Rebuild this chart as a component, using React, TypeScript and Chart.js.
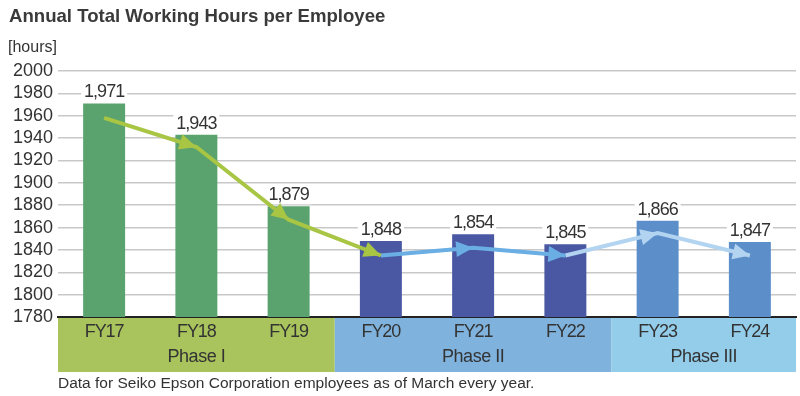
import React, { useEffect, useRef } from "react";
import { Chart, registerables } from "chart.js";

Chart.register(...registerables);

const categories = ["FY17", "FY18", "FY19", "FY20", "FY21", "FY22", "FY23", "FY24"];
const hours = [1971, 1943, 1879, 1848, 1854, 1845, 1866, 1847];
const hourLabels = ["1,971", "1,943", "1,879", "1,848", "1,854", "1,845", "1,866", "1,847"];
const trendPhase1 = [1958, 1932, 1867, 1835, null, null, null, null];
const trendPhase2 = [null, null, null, 1835, 1842, 1835, null, null];
const trendPhase3 = [null, null, null, null, null, 1835, 1855, 1835];
const phases = [
  { name: "Phase I", from: 0, to: 2 },
  { name: "Phase II", from: 3, to: 5 },
  { name: "Phase III", from: 6, to: 7 },
];
const yTicks = { min: 1780, max: 2000, step: 20 };

const barColors = ["#5aa36e", "#5aa36e", "#5aa36e", "#4a58a3", "#4a58a3", "#4a58a3", "#5c8fca", "#5c8fca"];
const bandColors = ["#a9c45d", "#7fb3de", "#93cdea"];
const arrowColors = ["#a8c544", "#6aaee3", "#b3d4f1"];
const FONT = "'Liberation Sans', Arial, Helvetica, sans-serif";
const TEXT = "#333333";

const decorPlugin = {
  id: "decor",
  beforeDraw(chart: any) {
    const { ctx, chartArea } = chart;
    const xs = chart.scales.x;
    const half = (xs.getPixelForValue(1) - xs.getPixelForValue(0)) / 2;
    ctx.save();
    const bandTop = chartArea.bottom;
    const bandBottom = 372;
    phases.forEach((p, i) => {
      const x0 = xs.getPixelForValue(p.from) - half;
      const x1 = xs.getPixelForValue(p.to) + half;
      ctx.fillStyle = bandColors[i];
      ctx.fillRect(x0, bandTop, x1 - x0, bandBottom - bandTop);
      ctx.fillStyle = TEXT;
      ctx.font = `18px ${FONT}`;
      ctx.textAlign = "center";
      ctx.textBaseline = "middle";
      (ctx as any).letterSpacing = "-0.5px";
      ctx.fillText(p.name, (x0 + x1) / 2, 357);
    });
    ctx.font = `18px ${FONT}`;
    (ctx as any).letterSpacing = "-1.1px";
    categories.forEach((c, i) => {
      ctx.fillText(c, xs.getPixelForValue(i), 332);
    });
    (ctx as any).letterSpacing = "0px";
    ctx.textAlign = "left";
    ctx.fillStyle = "#3a3a3a";
    ctx.font = `bold 18.6px ${FONT}`;
    ctx.fillText("Annual Total Working Hours per Employee", 9, 17);
    ctx.fillStyle = TEXT;
    ctx.font = `16px ${FONT}`;
    ctx.fillText("[hours]", 8, 48);
    ctx.font = `15.5px ${FONT}`;
    ctx.fillText("Data for Seiko Epson Corporation employees as of March every year.", 58, 384);
    ctx.restore();
  },
  afterDatasetDraw(chart: any, args: any) {
    const { ctx } = chart;
    const meta = args.meta;
    if (meta.type === "bar") {
      ctx.save();
      ctx.font = `18px ${FONT}`;
      (ctx as any).letterSpacing = "-1px";
      ctx.textAlign = "center";
      ctx.textBaseline = "middle";
      meta.data.forEach((el: any, i: number) => {
        const txt = hourLabels[i];
        const w = ctx.measureText(txt).width + 6;
        const cy = el.y - 11;
        ctx.fillStyle = "#ffffff";
        ctx.fillRect(el.x - w / 2, cy - 10, w, 19);
        ctx.fillStyle = TEXT;
        ctx.fillText(txt, el.x, cy);
      });
      ctx.restore();
    } else if (meta.type === "line") {
      const color = chart.data.datasets[args.index].borderColor;
      const data = chart.data.datasets[args.index].data;
      ctx.save();
      ctx.fillStyle = color;
      for (let i = 1; i < meta.data.length; i++) {
        if (data[i] == null || data[i - 1] == null) continue;
        const p0 = meta.data[i - 1];
        const p1 = meta.data[i];
        const ang = Math.atan2(p1.y - p0.y, p1.x - p0.x);
        const len = 17;
        const hw = 8;
        ctx.beginPath();
        ctx.moveTo(p1.x, p1.y);
        ctx.lineTo(p1.x - len * Math.cos(ang) - hw * Math.sin(ang), p1.y - len * Math.sin(ang) + hw * Math.cos(ang));
        ctx.lineTo(p1.x - len * Math.cos(ang) + hw * Math.sin(ang), p1.y - len * Math.sin(ang) - hw * Math.cos(ang));
        ctx.closePath();
        ctx.fill();
      }
      ctx.restore();
    }
  },
};

export default function App() {
  const ref = useRef<HTMLCanvasElement>(null);
  useEffect(() => {
    if (!ref.current) return;
    const lineDs = (data: (number | null)[], color: string) => ({
      type: "line" as const,
      data,
      borderColor: color,
      backgroundColor: color,
      borderWidth: 4,
      pointRadius: 0,
      spanGaps: false,
      order: 0,
      tension: 0,
    });
    const chart = new Chart(ref.current, {
      type: "bar",
      data: {
        labels: categories,
        datasets: [
          {
            type: "bar",
            data: hours,
            backgroundColor: barColors,
            barPercentage: 0.455,
            categoryPercentage: 1,
            order: 10,
          } as any,
          lineDs(trendPhase1, arrowColors[0]),
          lineDs(trendPhase2, arrowColors[1]),
          lineDs(trendPhase3, arrowColors[2]),
        ],
      },
      options: {
        responsive: false,
        animation: false,
        devicePixelRatio: 1,
        layout: { padding: { top: 71, right: 4, left: 0, bottom: 0 } },
        plugins: { legend: { display: false }, tooltip: { enabled: false } },
        scales: {
          x: {
            grid: { display: false },
            border: { display: true, color: "#222222", width: 2 },
            ticks: { display: false },
            afterFit: (s: any) => {
              s.height = 79;
            },
          },
          y: {
            min: yTicks.min,
            max: yTicks.max,
            ticks: {
              stepSize: yTicks.step,
              autoSkip: false,
              font: { size: 18, family: FONT },
              color: TEXT,
              padding: 5,
              callback: (v: any) => String(v),
            },
            grid: { color: "#c8c8c8", lineWidth: 1.5, drawTicks: false },
            border: { display: false },
            afterFit: (s: any) => {
              s.width = 58;
            },
          },
        },
      },
      plugins: [decorPlugin],
    });
    return () => chart.destroy();
  }, []);
  return (
    <div style={{ position: "fixed", left: 0, top: 0, width: 800, height: 396, background: "#fff" }}>
      <canvas ref={ref} width={800} height={396} style={{ width: 800, height: 396, display: "block" }} />
    </div>
  );
}
